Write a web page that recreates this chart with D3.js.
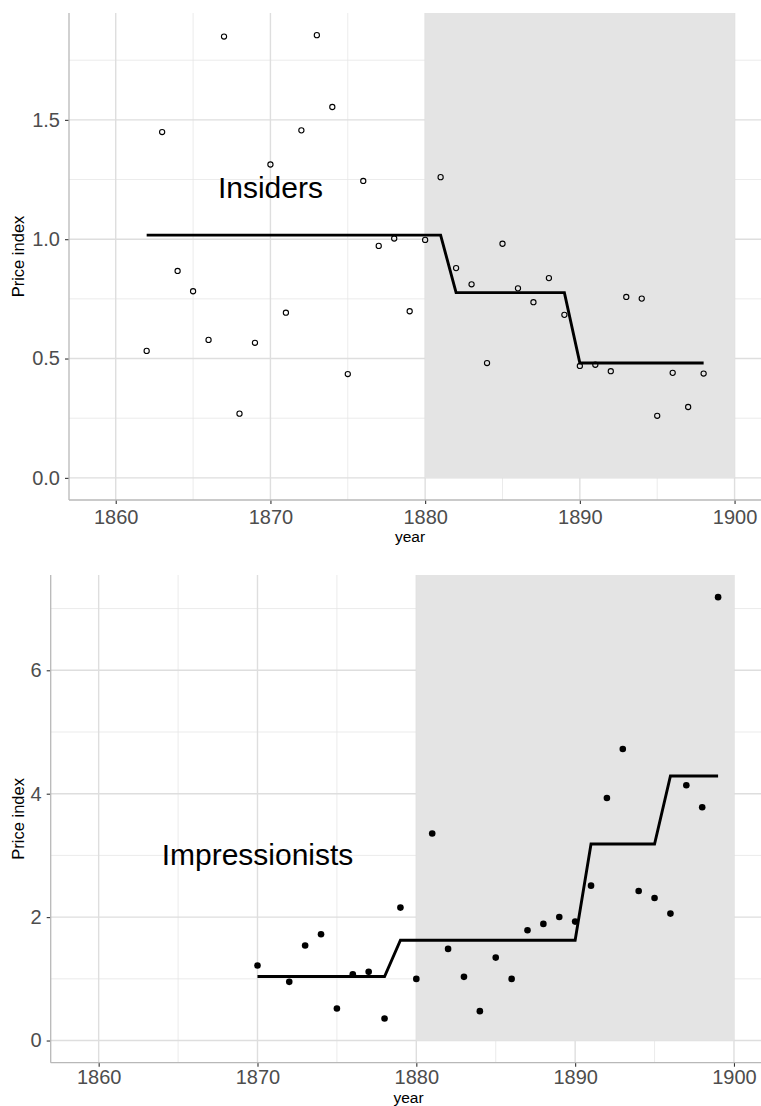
<!DOCTYPE html>
<html>
<head>
<meta charset="utf-8">
<script src="https://cdn.jsdelivr.net/npm/d3@7"></script>
<style>
  body { margin: 0; background: #fff; }
  svg text { font-family: "Liberation Sans", Arial, sans-serif; }
</style>
</head>
<body>
<svg id="chart" width="761" height="1106"></svg>
<script>
// insiders, price index per year
const insidersYears = [1862,1863,1864,1865,1866,1867,1868,1869,1870,1871,1872,1873,1874,1875,1876,1877,1878,1879,1880,
  1881,1882,1883,1884,1885,1886,1887,1888,1889,1890,1891,1892,1893,1894,1895,1896,1897,1898];
const insidersPrice = [0.532,1.449,0.867,0.782,0.578,1.849,0.269,0.566,1.313,0.692,1.456,1.855,1.554,0.435,1.244,0.972,1.003,0.698,0.997,
  1.260,0.879,0.811,0.481,0.981,0.794,0.736,0.837,0.683,0.469,0.474,0.447,0.758,0.751,0.260,0.440,0.297,0.437];
// fitted step line
const insidersFitYears = [1862,1881,1882,1889,1890,1898];
const insidersFit = [1.017,1.017,0.776,0.776,0.481,0.481];

// impressionists
const impYears = [1870,1872,1873,1874,1875,1876,1877,1878,1879,1880,1881,1882,1883,1884,1885,1886,1887,1888,1889,
  1890,1891,1892,1893,1894,1895,1896,1897,1898,1899];
const impPrice = [1.215,0.951,1.539,1.723,0.518,1.075,1.113,0.357,2.154,0.999,3.355,1.485,1.032,0.476,1.344,0.999,1.788,1.890,2.003,
  1.927,2.510,3.930,4.724,2.424,2.311,2.057,4.136,3.780,7.185];
const impFitYears = [1870,1878,1879,1890,1891,1895,1896,1899];
const impFit = [1.037,1.037,1.626,1.626,3.185,3.185,4.287,4.287];

const shadeYears = [1880, 1900];
const xTicks = [1860,1870,1880,1890,1900];
const xMinor = [1865,1875,1885,1895];

const svg = d3.select("#chart");

function panel(opt) {
  const x = d3.scaleLinear().domain([1856.98, 1901.45]).range([opt.left, 757]);
  const ymax = d3.max(opt.values);
  const y = d3.scaleLinear().domain([-0.05 * ymax, 1.05 * ymax]).range([opt.bottom, opt.top]);
  const g = svg.append("g");

  // grid
  g.selectAll(".minorY").data(opt.yMinor).enter().append("line")
    .attr("x1", opt.left).attr("x2", 761)
    .attr("y1", d => y(d)).attr("y2", d => y(d))
    .attr("stroke", "#e6e6e6").attr("stroke-width", 0.8);
  g.selectAll(".minorX").data(xMinor).enter().append("line")
    .attr("x1", d => x(d)).attr("x2", d => x(d))
    .attr("y1", opt.top).attr("y2", opt.bottom)
    .attr("stroke", "#e6e6e6").attr("stroke-width", 0.8);
  g.selectAll(".majorY").data(opt.yTicks).enter().append("line")
    .attr("x1", opt.left).attr("x2", 761)
    .attr("y1", d => y(d)).attr("y2", d => y(d))
    .attr("stroke", "#dedede").attr("stroke-width", 1.4);
  g.selectAll(".majorX").data(xTicks).enter().append("line")
    .attr("x1", d => x(d)).attr("x2", d => x(d))
    .attr("y1", opt.top).attr("y2", opt.bottom)
    .attr("stroke", "#dedede").attr("stroke-width", 1.4);

  // shaded period
  g.append("rect")
    .attr("x", x(shadeYears[0]))
    .attr("width", x(shadeYears[1]) - x(shadeYears[0]))
    .attr("y", opt.top)
    .attr("height", y(0) - opt.top)
    .attr("fill", "#e4e4e4");

  // axes
  const yAxis = d3.axisLeft(y).tickValues(opt.yTicks).tickSize(4).tickPadding(5).tickFormat(opt.fmt);
  const ya = g.append("g").attr("transform", "translate(" + opt.left + ",0)").call(yAxis);
  ya.select(".domain").remove();
  ya.selectAll("line").attr("stroke", "#333").attr("stroke-width", 1.1);
  ya.selectAll("text").attr("font-size", 20).attr("fill", "#4d4d4d").attr("font-family", "Liberation Sans, Arial, sans-serif");

  const xAxis = d3.axisBottom(x).tickValues(xTicks).tickSize(4).tickPadding(opt.xPad).tickFormat(d3.format("d"));
  const xa = g.append("g").attr("transform", "translate(0," + opt.bottom + ")").call(xAxis);
  xa.select(".domain").remove();
  xa.selectAll("line").attr("stroke", "#333").attr("stroke-width", 1.1);
  xa.selectAll("text").attr("font-size", 20).attr("fill", "#4d4d4d").attr("font-family", "Liberation Sans, Arial, sans-serif");

  g.append("line").attr("x1", opt.left).attr("x2", opt.left).attr("y1", opt.top).attr("y2", opt.bottom)
    .attr("stroke", "#b8b8b8").attr("stroke-width", 1.3);
  g.append("line").attr("x1", opt.left).attr("x2", 761).attr("y1", opt.bottom).attr("y2", opt.bottom)
    .attr("stroke", "#b8b8b8").attr("stroke-width", 1.3);

  // titles
  g.append("text").attr("x", opt.titleX).attr("y", opt.bottom + opt.titleGap)
    .attr("text-anchor", "middle").attr("font-size", 15.5).text("year");
  g.append("text")
    .attr("transform", "translate(24," + (opt.top + opt.bottom) / 2 + ") rotate(-90)")
    .attr("text-anchor", "middle").attr("font-size", 16.5).text("Price index");

  // step line
  const line = d3.line().x(d => x(d[0])).y(d => y(d[1]));
  g.append("path")
    .datum(d3.zip(opt.fitYears, opt.fit))
    .attr("d", line)
    .attr("fill", "none").attr("stroke", "#000").attr("stroke-width", 2.9);

  // points
  g.selectAll(".pt").data(d3.zip(opt.years, opt.values)).enter().append("circle")
    .attr("cx", d => x(d[0])).attr("cy", d => y(d[1]))
    .attr("r", opt.filled ? 3.3 : 2.6)
    .attr("fill", opt.filled ? "#000" : "none")
    .attr("stroke", "#000").attr("stroke-width", opt.filled ? 0 : 1.1);

  // label
  g.append("text").attr("x", x(1870)).attr("y", y(opt.labelY))
    .attr("dy", "0.23em")
    .attr("text-anchor", "middle")
    .attr("font-size", 30).text(opt.label);
}

panel({
  left: 69, top: 13, bottom: 500, titleX: 410, titleGap: 42, xPad: 5.8,
  years: insidersYears, values: insidersPrice,
  fitYears: insidersFitYears, fit: insidersFit,
  yTicks: [0, 0.5, 1, 1.5], yMinor: [0.25, 0.75, 1.25, 1.75],
  fmt: d3.format(".1f"), filled: false,
  label: "Insiders", labelY: 1.2
});

panel({
  left: 50.7, top: 575, bottom: 1062.7, titleX: 408.5, titleGap: 39.8, xPad: 3.6,
  years: impYears, values: impPrice,
  fitYears: impFitYears, fit: impFit,
  yTicks: [0, 2, 4, 6], yMinor: [1, 3, 5, 7],
  fmt: d3.format("d"), filled: true,
  label: "Impressionists", labelY: 2.95
});
</script>
</body>
</html>
